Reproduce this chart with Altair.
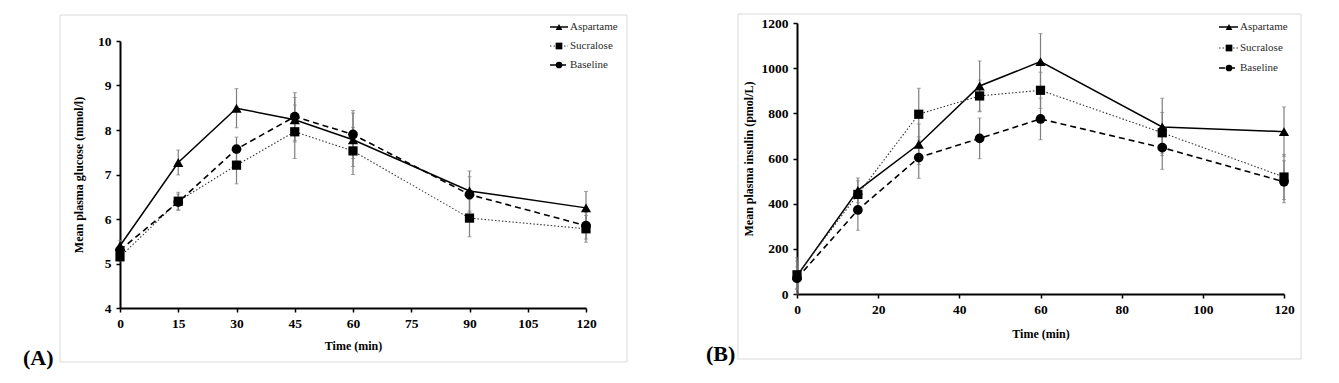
import altair as alt
import pandas as pd

times = [0, 15, 30, 45, 60, 90, 120]
series = ["Aspartame", "Sucralose", "Baseline"]

# Panel A: glucose (mmol/l)
glucose_aspartame = [5.40, 7.27, 8.49, 8.23, 7.78, 6.63, 6.25]
glucose_sucralose = [5.15, 6.40, 7.21, 7.96, 7.53, 6.02, 5.78]
glucose_baseline = [5.30, 6.38, 7.57, 8.30, 7.90, 6.55, 5.85]
glucose_aspartame_err = [0.12, 0.28, 0.44, 0.50, 0.60, 0.45, 0.37]
glucose_sucralose_err = [0.10, 0.20, 0.42, 0.60, 0.53, 0.42, 0.30]
glucose_baseline_err = [0.12, 0.18, 0.27, 0.54, 0.54, 0.40, 0.30]

# Panel B: insulin (pmol/L)
insulin_aspartame = [80, 459, 663, 921, 1029, 740, 719]
insulin_sucralose = [85, 441, 796, 877, 902, 714, 518]
insulin_baseline = [70, 372, 604, 689, 775, 648, 497]
insulin_aspartame_err = [80, 55, 90, 111, 124, 127, 109]
insulin_sucralose_err = [60, 60, 115, 70, 80, 90, 100]
insulin_baseline_err = [50, 90, 92, 90, 92, 96, 93]

glucose_ticks = [0, 15, 30, 45, 60, 75, 90, 105, 120]
glucose_yticks = [4, 5, 6, 7, 8, 9, 10]
insulin_ticks = [0, 20, 40, 60, 80, 100, 120]
insulin_yticks = [0, 200, 400, 600, 800, 1000, 1200]

FONT = "Liberation Serif"
GRAY = "#7f7f7f"

styles = {
    "Aspartame": dict(dash=None, width=1.5, color="black", shape="triangle-up", size=105),
    "Sucralose": dict(dash=[1.5, 2], width=1.1, color="#333333", shape="square", size=85),
    "Baseline": dict(dash=[6, 4], width=1.6, color="black", shape="circle", size=95),
}


def make_df(means, errs):
    rows = []
    for s, m, e in zip(series, means, errs):
        for t, v, er in zip(times, m, e):
            rows.append(dict(series=s, time=t, value=v, lo=v - er, hi=v + er))
    return pd.DataFrame(rows)


def axis(values, title, title_x=None, title_y=None, label_pad=4):
    kw = dict(
        values=values, title=title, grid=False, format="d",
        domainColor="black", domainWidth=2,
        tickColor="black", tickWidth=1.5, tickSize=4,
        labelFont=FONT, labelFontWeight="bold", labelFontSize=13.5, labelColor="black",
        labelPadding=label_pad, labelOverlap=False, labelFlush=False,
        titleFont=FONT, titleFontWeight="bold", titleFontSize=12, titleColor="black",
        titleBaseline="middle",
    )
    if title_x is not None:
        kw["titleX"] = title_x
    if title_y is not None:
        kw["titleY"] = title_y
    return alt.Axis(**kw)


def panel(df, xticks, ydom, yticks, w, h, yrange, ytitle, xtitle, ytitle_x, xtitle_y,
          frame, label, label_pos, leg):
    xs = alt.Scale(domain=[0, 120], nice=False)
    ys = alt.Scale(domain=ydom, nice=False, range=yrange)
    xa = axis(xticks, xtitle, title_y=xtitle_y)
    ya = axis(yticks, ytitle, title_x=ytitle_x, label_pad=5)

    def X(f="time"):
        return alt.X(f + ":Q", scale=xs, axis=xa)

    def Y(f):
        return alt.Y(f + ":Q", scale=ys, axis=ya, title=ytitle)

    layers = []
    one = pd.DataFrame({"k": [0]})
    # frame
    layers.append(
        alt.Chart(one).mark_rect(fillOpacity=0, stroke="#d9d9d9", strokeWidth=1).encode(
            x=alt.value(frame[0]), x2=alt.value(frame[1]),
            y=alt.value(frame[2]), y2=alt.value(frame[3]))
    )
    for s in series:
        st = styles[s]
        d = df[df.series == s]
        line_kw = dict(color=st["color"], strokeWidth=st["width"])
        if st["dash"]:
            line_kw["strokeDash"] = st["dash"]
        layers.append(alt.Chart(d).mark_line(**line_kw).encode(x=X(), y=Y("value")))
    for s in series:
        d = df[df.series == s]
        base = alt.Chart(d)
        layers.append(base.mark_rule(color=GRAY, strokeWidth=1.2).encode(
            x=X(), y=Y("lo"), y2="hi:Q"))
        for f in ["lo", "hi"]:
            layers.append(base.mark_tick(color=GRAY, orient="horizontal", size=4, thickness=1).encode(
                x=X(), y=Y(f)))
    for s in series:
        st = styles[s]
        d = df[df.series == s]
        layers.append(alt.Chart(d).mark_point(filled=True, opacity=1, color="black",
                                              shape=st["shape"], size=st["size"]).encode(
            x=X(), y=Y("value")))
    # legend
    lx0, lx1, mx, tx, rows = leg
    for s, ly in zip(series, rows):
        st = styles[s]
        ld = pd.DataFrame({"series": [s]})
        rk = dict(color=st["color"], strokeWidth=st["width"])
        if st["dash"]:
            rk["strokeDash"] = st["dash"]
        layers.append(alt.Chart(ld).mark_rule(**rk).encode(
            x=alt.value(lx0), x2=alt.value(lx1), y=alt.value(ly)))
        layers.append(alt.Chart(ld).mark_point(filled=True, opacity=1, color="black",
                                               shape=st["shape"], size=45).encode(
            x=alt.value(mx), y=alt.value(ly)))
        layers.append(alt.Chart(ld).mark_text(align="left", baseline="middle", font=FONT,
                                              fontSize=11, color="#2b2b2b").encode(
            x=alt.value(tx), y=alt.value(ly), text="series:N"))
    # panel label
    layers.append(alt.Chart(pd.DataFrame({"t": [label]})).mark_text(
        align="left", baseline="middle", font=FONT, fontSize=22, fontWeight="bold",
        color="black").encode(x=alt.value(label_pos[0]), y=alt.value(label_pos[1]), text="t:N"))
    return alt.layer(*layers).properties(width=w, height=h)


dfA = make_df([glucose_aspartame, glucose_sucralose, glucose_baseline],
              [glucose_aspartame_err, glucose_sucralose_err, glucose_baseline_err])
dfB = make_df([insulin_aspartame, insulin_sucralose, insulin_baseline],
              [insulin_aspartame_err, insulin_sucralose_err, insulin_baseline_err])

# both panels share the same plot origin (y = 22 on the page)
A = panel(dfA, glucose_ticks, [4, 10], glucose_yticks, 466, 285, [285, 18],
          "Mean plasma glucose (mmol/l)", "Time (min)", -42, 37,
          (-60, 507, -8, 339), "(A)", (-97, 335),
          (430, 448, 439, 450, [4, 23, 42]))
B = panel(dfB, insulin_ticks, [0, 1200], insulin_yticks, 487, 271, [271, 0],
          "Mean plasma insulin  (pmol/L)", "Time  (min)", -49, 39,
          (-59, 504, -9, 336), "(B)", (-91, 331),
          (422, 441, 432, 443, [4, 25, 45]))

chart = alt.hconcat(A, B, spacing=78).properties(
    padding={"left": 15, "top": 5, "right": 5, "bottom": 5}
).configure_view(stroke=None)

chart.save("out.html", embed_options={"renderer": "svg", "actions": False})
